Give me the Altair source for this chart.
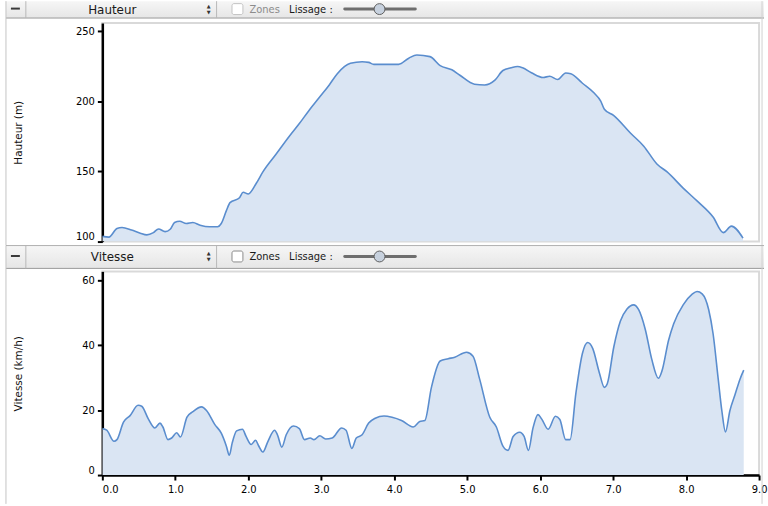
import altair as alt
import pandas as pd

# ---------------- data ----------------
dist_h = [0.00, 0.09, 0.20, 0.27, 0.40, 0.52, 0.61, 0.70, 0.77, 0.86, 0.93, 0.99, 1.06, 1.15,
          1.24, 1.34, 1.47, 1.58, 1.63, 1.70, 1.75, 1.88, 1.93, 2.00, 2.11, 2.20, 2.38, 2.56,
          2.70, 2.83, 2.97, 3.11, 3.22, 3.40, 3.56, 3.65, 3.72, 4.06, 4.20, 4.31, 4.49, 4.63,
          4.79, 4.90, 5.10, 5.24, 5.38, 5.49, 5.60, 5.69, 5.76, 5.88, 6.04, 6.13, 6.24, 6.35,
          6.42, 6.58, 6.74, 6.83, 6.88, 7.01, 7.24, 7.42, 7.60, 7.74, 7.96, 8.15, 8.37, 8.51,
          8.62, 8.78]
hauteur = [103.7, 103.2, 109.4, 110.1, 108.3, 106.0, 104.8, 106.4, 109.0, 107.1, 108.8, 113.6,
           114.5, 112.9, 113.6, 111.7, 110.6, 110.6, 112.9, 122.1, 127.8, 131.3, 135.2, 134.0,
           141.6, 149.7, 162.3, 175.0, 184.2, 193.4, 202.6, 211.8, 219.8, 227.2, 228.3, 227.9,
           226.5, 226.5, 230.9, 233.2, 232.0, 225.6, 222.6, 218.7, 212.3, 211.8, 215.2, 222.1,
           224.0, 224.9, 224.0, 220.5, 217.1, 218.0, 215.7, 220.3, 219.8, 213.0, 206.0, 200.3,
           194.5, 189.9, 177.3, 168.1, 155.4, 149.7, 138.2, 129.0, 117.5, 106.4, 111.0, 102.5]

dist_v = [0.00, 0.06, 0.16, 0.20, 0.29, 0.38, 0.49, 0.54, 0.63, 0.72, 0.79, 0.83, 0.90, 0.95,
          1.02, 1.07, 1.16, 1.24, 1.36, 1.43, 1.54, 1.63, 1.70, 1.74, 1.78, 1.84, 1.92, 1.97,
          2.04, 2.10, 2.14, 2.20, 2.27, 2.36, 2.40, 2.46, 2.52, 2.62, 2.70, 2.77, 2.85, 2.90,
          2.98, 3.06, 3.15, 3.28, 3.34, 3.42, 3.48, 3.56, 3.65, 3.74, 3.86, 3.97, 4.10, 4.26,
          4.35, 4.42, 4.51, 4.63, 4.74, 4.83, 4.99, 5.08, 5.17, 5.31, 5.40, 5.49, 5.56, 5.63,
          5.72, 5.78, 5.84, 5.90, 5.97, 6.02, 6.11, 6.21, 6.27, 6.35, 6.41, 6.49, 6.58, 6.65,
          6.72, 6.81, 6.88, 6.92, 7.01, 7.10, 7.19, 7.28, 7.35, 7.44, 7.53, 7.62, 7.67, 7.76,
          7.83, 7.96, 8.08, 8.15, 8.22, 8.31, 8.37, 8.44, 8.49, 8.54, 8.60, 8.67, 8.74, 8.79]
vitesse = [14.3, 13.8, 10.4, 10.9, 16.3, 18.3, 21.5, 21.2, 17.3, 14.5, 16.0, 14.8, 10.9, 11.4,
           13.0, 11.7, 17.8, 19.5, 21.0, 19.8, 15.6, 12.9, 8.9, 6.1, 9.9, 13.6, 14.1, 11.9,
           9.4, 10.7, 9.1, 7.1, 10.4, 13.8, 12.4, 8.6, 12.4, 15.1, 14.3, 10.9, 11.4, 10.9,
           12.1, 11.1, 11.4, 14.5, 13.8, 8.2, 11.4, 12.4, 16.0, 17.5, 18.2, 17.8, 16.8, 14.8,
           16.5, 16.8, 27.0, 35.1, 35.8, 36.3, 37.8, 36.6, 29.6, 17.8, 14.8, 8.9, 7.6, 11.9,
           13.2, 11.9, 7.6, 14.3, 18.6, 17.3, 14.1, 18.1, 17.1, 10.9, 10.9, 25.2, 37.5, 40.8,
           39.0, 31.6, 27.0, 28.1, 39.5, 47.4, 51.1, 52.4, 50.9, 44.9, 35.6, 29.8, 32.1, 41.5,
           46.6, 52.4, 55.6, 56.5, 55.8, 50.9, 43.5, 29.6, 19.8, 13.3, 19.8, 24.7, 29.6, 32.3]

x_ticks = [0, 1, 2, 3, 4, 5, 6, 7, 8, 9]
h_ticks = [100, 150, 200, 250]
v_ticks = [0, 20, 40, 60]

df_h = pd.DataFrame({"d": dist_h, "v": hauteur})
df_v = pd.DataFrame({"d": dist_v, "v": vitesse})

LINE = "#5a8dce"
FILL = "#dae5f3"
FONT = "DejaVu Sans"
W = 661


def deco():
    return alt.Chart(alt.InlineData(values=[{"k": 0}]))


def header(top, bottom, title, disabled, bottom_extent, top_border):
    c = (top + bottom) / 2.0
    layers = [
        deco().mark_rect(color="white").encode(
            x=alt.value(-102), x2=alt.value(-97), y=alt.value(top), y2=alt.value(bottom)),
        deco().mark_rect(color=alt.LinearGradient(
            gradient="linear", x1=0, x2=0, y1=0, y2=1,
            stops=[alt.GradientStop(color="#f6f6f6", offset=0),
                   alt.GradientStop(color="#e6e6e6", offset=1)])).encode(
            x=alt.value(-97), x2=alt.value(666), y=alt.value(top), y2=alt.value(bottom)),
        deco().mark_rule(color="#9a9a9a", strokeWidth=1).encode(
            x=alt.value(-97), x2=alt.value(666), y=alt.value(bottom)),
        # window borders
        deco().mark_rule(color="#c4c4c4", strokeWidth=1).encode(
            x=alt.value(-97), y=alt.value(top), y2=alt.value(bottom_extent)),
        deco().mark_rule(color="#d0d0d0", strokeWidth=1).encode(
            x=alt.value(664), y=alt.value(top), y2=alt.value(bottom_extent)),
        # minus button and separators
        deco().mark_rule(color="#3a3a3a", strokeWidth=2).encode(
            x=alt.value(-92), x2=alt.value(-83), y=alt.value(c - 1)),
        deco().mark_rule(color="#b8b8b8", strokeWidth=1).encode(
            x=alt.value(-77), y=alt.value(top), y2=alt.value(bottom)),
        deco().mark_rule(color="#b8b8b8", strokeWidth=1).encode(
            x=alt.value(115), y=alt.value(top), y2=alt.value(bottom)),
        # dropdown
        deco().mark_text(text=title, font=FONT, fontSize=12, color="#1a1a1a",
                         align="center", baseline="middle").encode(
            x=alt.value(10), y=alt.value(c + 0.5)),
        deco().mark_text(text="\u25B2", font=FONT, fontSize=5, color="#333333",
                         align="center", baseline="middle").encode(
            x=alt.value(107), y=alt.value(c - 3.5)),
        deco().mark_text(text="\u25BC", font=FONT, fontSize=5, color="#333333",
                         align="center", baseline="middle").encode(
            x=alt.value(107), y=alt.value(c + 2.5)),
        # checkbox
        deco().mark_rect(color="white", stroke="#c2c2c2" if disabled else "#8a8a8a",
                         strokeWidth=1, cornerRadius=2).encode(
            x=alt.value(130.5), x2=alt.value(141.5), y=alt.value(c - 6), y2=alt.value(c + 5)),
        deco().mark_text(text="Zones", font=FONT, fontSize=10,
                         color="#8c8c8c" if disabled else "#1a1a1a",
                         align="left", baseline="middle").encode(
            x=alt.value(148), y=alt.value(c)),
        deco().mark_text(text="Lissage :", font=FONT, fontSize=10, color="#1a1a1a",
                         align="left", baseline="middle").encode(
            x=alt.value(188), y=alt.value(c)),
        # slider
        deco().mark_rule(color="#6e6e6e", strokeWidth=3, strokeCap="round").encode(
            x=alt.value(244), x2=alt.value(315), y=alt.value(c - 0.5)),
        deco().mark_circle(size=120, color="#c7d1de", opacity=1, stroke="#5f5f5f",
                           strokeWidth=1).encode(
            x=alt.value(279), y=alt.value(c - 0.5)),
    ]
    if top_border:
        layers.append(deco().mark_rule(color="#b0b0b0", strokeWidth=1).encode(
            x=alt.value(-97), x2=alt.value(666), y=alt.value(top)))
    return layers


def panel(df, ydom, yticks, ytitle, height, show_x):
    if show_x:
        xaxis = alt.Axis(values=x_ticks, format=".1f", title=None, grid=False,
                         labelAlign=alt.expr("datum.value == 0 ? 'left' : 'center'"),
                         labelPadding=5)
    else:
        xaxis = None
    area = alt.Chart(df).mark_area(
        color=FILL, opacity=1, interpolate="monotone", clip=True,
        line={"color": LINE, "strokeWidth": 1.6},
    ).encode(
        x=alt.X("d:Q", scale=alt.Scale(domain=[0, 9], nice=False, zero=False), axis=xaxis),
        y=alt.Y("v:Q", scale=alt.Scale(domain=ydom, nice=False, zero=False),
                axis=alt.Axis(values=yticks, title=ytitle, grid=False, labelFlush=True,
                              labelPadding=3, titleX=-84, titleY=height / 2.0,
                              titleAngle=270, titleAlign="center", titleBaseline="middle",
                              titleFont=FONT, titleFontSize=10.5, titleFontWeight="normal",
                              titleColor="#111111")),
        y2=alt.datum(ydom[0]),
    )
    return area


top_layers = header(-22, -5, "Hauteur", True, 224, False)
top = alt.layer(*top_layers, panel(df_h, [100, 256], h_ticks, "Hauteur (m)", 220, False)
                ).properties(width=W, height=220)

bot_layers = header(-26, -3, "Vitesse", False, 234, True)
bot = alt.layer(*bot_layers, panel(df_v, [0, 62.7], v_ticks, "Vitesse (km/h)", 205, True)
                ).properties(width=W, height=205)

chart = alt.vconcat(top, bot, spacing=30).properties(
    padding={"left": 0, "top": -2.5, "right": 0, "bottom": 0},
    bounds="flush", background="white"
).configure_view(
    stroke="#d9d9d9", strokeWidth=2
).configure_axis(
    domainColor="black", domainWidth=2.5, tickColor="black", tickWidth=2, tickSize=5,
    labelColor="black", labelFont=FONT, labelFontSize=10,
)

chart.save("out.html", embed_options={"renderer": "svg", "actions": False})
